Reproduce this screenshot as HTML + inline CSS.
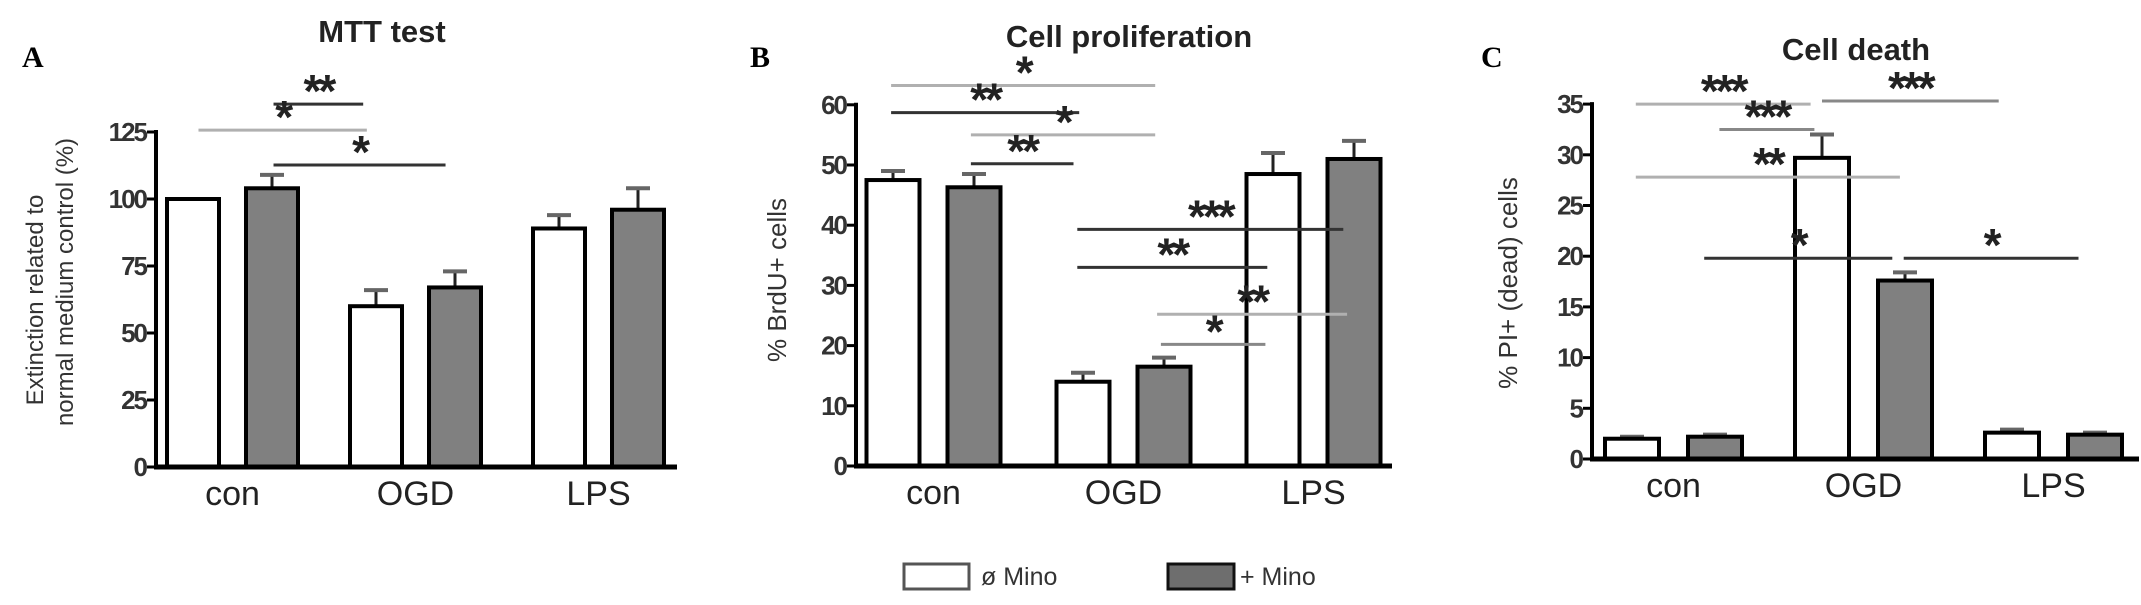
<!DOCTYPE html>
<html><head><meta charset="utf-8"><style>
html,body{margin:0;padding:0;background:#fff;}
svg{display:block;font-family:"Liberation Sans",Arial,sans-serif;}
</style></head><body>
<svg id="fig" width="2141" height="605" viewBox="0 0 2141 605" xmlns="http://www.w3.org/2000/svg">
<text x="22" y="67" font-family="Liberation Serif,serif" font-weight="bold" font-size="30">A</text>
<text x="750" y="67" font-family="Liberation Serif,serif" font-weight="bold" font-size="30">B</text>
<text x="1481" y="67" font-family="Liberation Serif,serif" font-weight="bold" font-size="30">C</text>
<g>
<rect x="904" y="564" width="65" height="25" fill="#fff" stroke="#555" stroke-width="3"/>
<text x="981" y="585" font-size="25" fill="#333">ø Mino</text>
<rect x="1168" y="564" width="66" height="25" fill="#6e6e6e" stroke="#111" stroke-width="3"/>
<text x="1240" y="585" font-size="25" fill="#333">+ Mino</text>
</g>
</svg>
<script>
// ---- data ----
const categories = ["con","OGD","LPS"];
const mttNoMino = [100, 60, 89];
const mttNoMinoErr = [0, 6, 5];
const mttMino = [104, 67, 96];
const mttMinoErr = [5, 6, 8];
const mttTicks = [0,25,50,75,100,125];
const brduNoMino = [47.5, 14, 48.5];
const brduNoMinoErr = [1.5, 1.5, 3.5];
const brduMino = [46.3, 16.5, 51];
const brduMinoErr = [2.2, 1.5, 3];
const brduTicks = [0,10,20,30,40,50,60];
const piNoMino = [2.0, 29.7, 2.6];
const piNoMinoErr = [0.2, 2.3, 0.3];
const piMino = [2.2, 17.6, 2.4];
const piMinoErr = [0.2, 0.8, 0.2];
const piTicks = [0,5,10,15,20,25,30,35];
// significance brackets: [fromGroupUnit, toGroupUnit, yValue, label, tone]
const mttSig = [[0.44,0.93,135.4,"**","d"],[0.03,0.95,125.7,"*","l"],[0.44,1.38,112.7,"*","d"]];
const brduSig = [[-0.01,1.38,63.2,"*","l"],[-0.01,0.98,58.7,"**","d"],[0.41,1.38,55,"*","l"],[0.41,0.95,50.2,"**","d"],[0.97,2.37,39.3,"***","d"],[0.97,1.97,33,"**","d"],[1.39,2.39,25.2,"**","l"],[1.41,1.96,20.2,"*","m"]];
const piSig = [[0.02,0.94,35.0,"***","l"],[1.0,1.93,35.3,"***","m"],[0.46,0.96,32.5,"***","m"],[0.02,1.41,27.8,"**","l"],[0.38,1.37,19.8,"*","d"],[1.43,2.35,19.8,"*","d"]];

const NS="http://www.w3.org/2000/svg";
const svg=document.getElementById("fig");
function mk(tag,attrs,parent){const e=document.createElementNS(NS,tag);for(const k in attrs)e.setAttribute(k,attrs[k]);(parent||svg).appendChild(e);return e;}
const tones={d:"#333",l:"#b0b0b0",m:"#888"};

function panel(cfg){
  const g=mk("g",{});
  
  
  const y=v=>cfg.y0-(v-0)*cfg.ppu;
  const xc=(gi,s)=>cfg.x0+gi*cfg.G+s*cfg.W;
  const xu=u=>cfg.x0+u*cfg.G;
  const t=mk("text",{x:cfg.titleX,y:cfg.titleY,"text-anchor":"middle","font-size":31,"font-weight":"bold",fill:"#222"},g);
  t.textContent=cfg.title;
  
  
  cfg.ylab.forEach((lab,i)=>{
    const tl=mk("text",{x:0,y:0,"text-anchor":"middle","font-size":cfg.ylabSize,fill:"#333",transform:`translate(${lab[1]},${lab[2]}) rotate(-90)`},g);
    tl.textContent=lab[0];
    
    
  });
  const series=[[cfg.a,cfg.ae,"#fff","no-mino"],[cfg.b,cfg.be,"#808080","plus-mino"]];
  categories.forEach((c,gi)=>{
    series.forEach((s,si)=>{
      const cx=xc(gi,si), top=y(s[0][gi]), bw=cfg.bw;
      const eb=y(s[0][gi]+s[1][gi]);
      if(s[1][gi]>0){
        const st=mk("line",{x1:cx,x2:cx,y1:top,y2:eb,stroke:"#222","stroke-width":3},g);
        
        
        const cp=mk("line",{x1:cx-12,x2:cx+12,y1:eb,y2:eb,stroke:"#666","stroke-width":4},g);
        
        
      }
      const r=mk("rect",{x:cx-bw/2,y:top,width:bw,height:cfg.y0-top,fill:s[2],stroke:"#000","stroke-width":4},g);
      
      
    });
    const lx=(xc(gi,0)+xc(gi,1))/2+cfg.labShift;
    const tl=mk("text",{x:lx,y:cfg.y0+38,"text-anchor":"middle","font-size":34,fill:"#222"},g);
    tl.textContent=c;
    
    
  });
  const ya=mk("line",{x1:cfg.ax,x2:cfg.ax,y1:y(cfg.ticks[cfg.ticks.length-1])-2,y2:cfg.y0+2,stroke:"#000","stroke-width":4},g);
  
  
  const xa=mk("line",{x1:cfg.ax-2,x2:cfg.xEnd,y1:cfg.y0,y2:cfg.y0,stroke:"#000","stroke-width":5},g);
  
  
  cfg.ticks.forEach(v=>{
    const tk=mk("line",{x1:cfg.ax-9,x2:cfg.ax,y1:y(v),y2:y(v),stroke:"#000","stroke-width":3},g);
    
    
    const tt=mk("text",{x:cfg.ax-10,y:y(v)+9,"text-anchor":"end","font-size":26,"font-weight":"bold","letter-spacing":-2,fill:"#333"},g);
    tt.textContent=v;
    
    
  });
  cfg.sig.forEach(s=>{
    const x1=xu(s[0]),x2=xu(s[1]),yy=y(s[2]);
    const ln=mk("line",{x1:x1,x2:x2,y1:yy,y2:yy,stroke:tones[s[4]],"stroke-width":3},g);
    
    
    const st=mk("text",{x:(x1+x2)/2,y:yy+3,"text-anchor":"middle","font-size":46,"font-weight":"bold","letter-spacing":-3,fill:"#222"},g);
    st.textContent=s[3];
    
    
  });
}

panel({name:"panel-mtt-test",title:"MTT test",titleX:382,titleY:42,a:mttNoMino,ae:mttNoMinoErr,b:mttMino,be:mttMinoErr,ticks:mttTicks,
  y0:467,ppu:2.68,ax:156,xEnd:677,x0:193,G:183,W:79,bw:52,labShift:0,sig:mttSig,ylabSize:24,
  ylab:[["Extinction related to",43,300],["normal medium control (%)",73,282]]});
panel({name:"panel-cell-proliferation",title:"Cell proliferation",titleX:1129,titleY:47,a:brduNoMino,ae:brduNoMinoErr,b:brduMino,be:brduMinoErr,ticks:brduTicks,
  y0:466,ppu:6.02,ax:856,xEnd:1392,x0:893,G:190,W:81,bw:53,labShift:0,sig:brduSig,ylabSize:26,
  ylab:[["% BrdU+ cells",786,280]]});
panel({name:"panel-cell-death",title:"Cell death",titleX:1856,titleY:60,a:piNoMino,ae:piNoMinoErr,b:piMino,be:piMinoErr,ticks:piTicks,
  y0:459,ppu:10.14,ax:1592,xEnd:2139,x0:1632,G:190,W:83,bw:54,labShift:0,sig:piSig,ylabSize:26,
  ylab:[["% PI+ (dead) cells",1517,283]]});
</script>
</body></html>
